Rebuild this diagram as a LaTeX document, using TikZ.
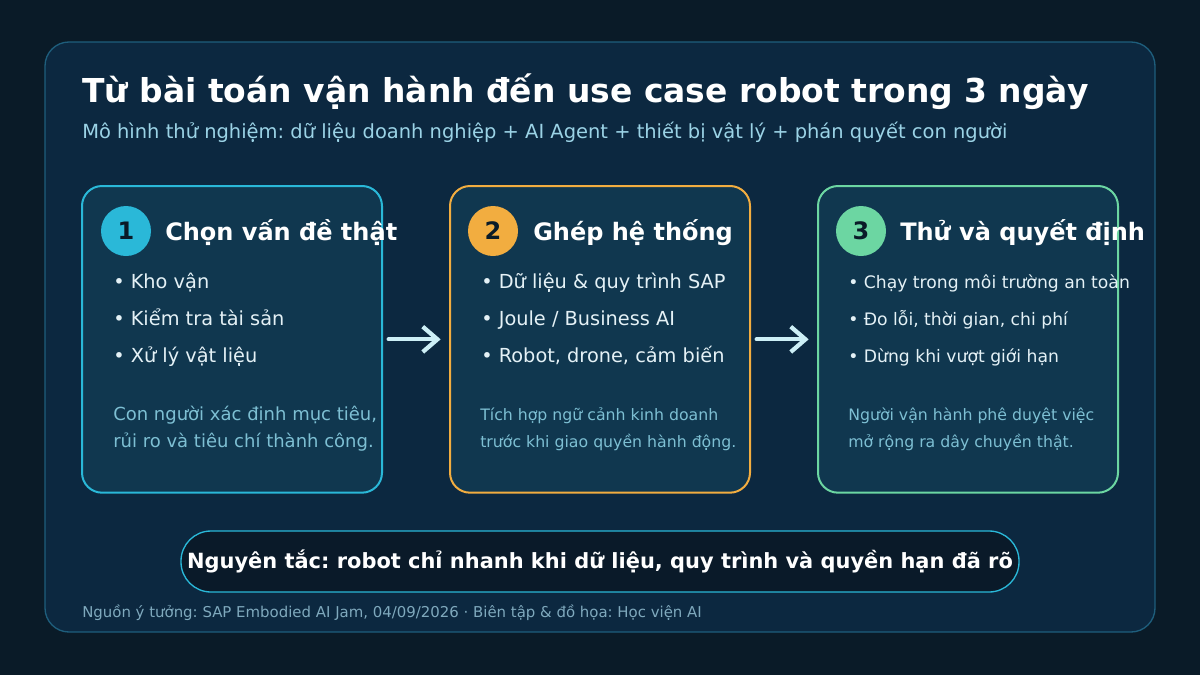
\documentclass[tikz,border=0pt]{standalone}
\usepackage{fontspec}
\setmainfont{DejaVu Sans}
\frenchspacing
\usetikzlibrary{positioning,arrows.meta}

\definecolor{pagebg}{HTML}{0A1B28}
\definecolor{panelbg}{HTML}{0C2840}
\definecolor{panelline}{HTML}{1E5E7C}
\definecolor{cardbg}{HTML}{10374F}
\definecolor{cyanline}{HTML}{2AB8D8}
\definecolor{orangeline}{HTML}{F2AD40}
\definecolor{greenline}{HTML}{6CD6A2}
\definecolor{subtext}{HTML}{9BD3E6}
\definecolor{mutedtext}{HTML}{7DBFD3}
\definecolor{bodytext}{HTML}{E4F1F6}
\definecolor{arrowcol}{HTML}{CDEFF6}
\definecolor{pillbg}{HTML}{0A1A29}
\definecolor{footertext}{HTML}{7FA9BD}

\tikzset{
  card/.style={draw, fill=cardbg, line width=1.5pt, rounded corners=15pt,
    minimum width=225pt, minimum height=230pt, outer sep=0pt, inner sep=0pt},
  badge/.style={circle, minimum size=37.5pt, inner sep=0pt, text=pagebg,
    font=\bfseries\fontsize{18pt}{20pt}\selectfont},
  heading/.style={anchor=base west, inner sep=0pt, text=white,
    font=\bfseries\fontsize{18pt}{22pt}\selectfont},
  item/.style={anchor=base west, inner sep=0pt, text=bodytext,
    font=\fontsize{14.5pt}{17pt}\selectfont},
  smallitem/.style={item, font=\fontsize{12.9pt}{15pt}\selectfont},
  note/.style={anchor=base west, inner sep=0pt, text=mutedtext, align=left},
  flow/.style={draw=arrowcol, line width=3.2pt, line cap=round,
    -{Straight Barb[length=11pt,width=19pt]},
    shorten <=5pt, shorten >=7pt},
}

\begin{document}
\begin{tikzpicture}[x=0.75pt,y=-0.75pt]

    % background and panel
    \fill[pagebg] (0,0) rectangle (1200,675);
    \draw[panelline, fill=panelbg, line width=1pt, rounded corners=18pt] (45,42) rectangle (1155,632);

    % title
    \node[anchor=base west, inner sep=0pt, text=white, font=\bfseries\fontsize{24.7pt}{28pt}\selectfont] (title) at (82,102)
        {Từ bài toán vận hành đến use case robot trong 3 ngày};
    \node[anchor=base west, inner sep=0pt, text=subtext, font=\fontsize{14.6pt}{17pt}\selectfont] (subtitle) at (82,138)
        {Mô hình thử nghiệm: dữ liệu doanh nghiệp + AI Agent + thiết bị vật lý + phán quyết con người};

    % Cards
    \node[card, draw=cyanline, anchor=north west] (card1) at (82,186) {};
    \node[card, draw=orangeline, right=51pt of card1] (card2) {};
    \node[card, draw=greenline, right=51pt of card2] (card3) {};

    % Card 1
    \node[badge, fill=cyanline] (num1) at ([shift={(44,45)}]card1.north west) {1};
    \node[heading] (head1) at ([shift={(83,54)}]card1.north west) {Chọn vấn đề thật};
    \node[item] (item1a) at ([shift={(31,102)}]card1.north west) {• Kho vận};
    \node[item] (item1b) at ([shift={(31,139)}]card1.north west) {• Kiểm tra tài sản};
    \node[item] (item1c) at ([shift={(31,176)}]card1.north west) {• Xử lý vật liệu};
    \node[note, font=\fontsize{13.5pt}{20.25pt}\selectfont] (note1) at ([shift={(31,261)}]card1.north west)
        {Con người xác định mục tiêu,\\rủi ro và tiêu chí thành công.};

    % Card 2
    \node[badge, fill=orangeline] (num2) at ([shift={(43,45)}]card2.north west) {2};
    \node[heading] (head2) at ([shift={(83,54)}]card2.north west) {Ghép hệ thống};
    \node[item] (item2a) at ([shift={(31,102)}]card2.north west) {• Dữ liệu \& quy trình SAP};
    \node[item] (item2b) at ([shift={(31,139)}]card2.north west) {• Joule / Business AI};
    \node[item] (item2c) at ([shift={(31,176)}]card2.north west) {• Robot, drone, cảm biến};
    \node[note, font=\fontsize{11.8pt}{20.25pt}\selectfont] (note2) at ([shift={(30,261)}]card2.north west)
        {Tích hợp ngữ cảnh kinh doanh\\trước khi giao quyền hành động.};

    % Card 3
    \node[badge, fill=greenline] (num3) at ([shift={(43,45)}]card3.north west) {3};
    \node[heading] (head3) at ([shift={(82,54)}]card3.north west) {Thử và quyết định};
    \node[smallitem] (item3a) at ([shift={(30,102)}]card3.north west) {• Chạy trong môi trường an toàn};
    \node[smallitem] (item3b) at ([shift={(30,139)}]card3.north west) {• Đo lỗi, thời gian, chi phí};
    \node[smallitem] (item3c) at ([shift={(30,176)}]card3.north west) {• Dừng khi vượt giới hạn};
    \node[note, font=\fontsize{11.8pt}{20.25pt}\selectfont] (note3) at ([shift={(30,261)}]card3.north west)
        {Người vận hành phê duyệt việc\\mở rộng ra dây chuyền thật.};

    % Arrows between cards
    \draw[flow] (card1) -- (card2);
    \draw[flow] (card2) -- (card3);

    % Principle
    \node[draw=cyanline, fill=pillbg, line width=1pt, rounded corners=22.5pt,
        minimum width=628.5pt, minimum height=45.75pt, inner sep=0pt,
        text=white, font=\bfseries\fontsize{15.7pt}{18pt}\selectfont] (rule) at (600,561.5)
        {Nguyên tắc: robot chỉ nhanh khi dữ liệu, quy trình và quyền hạn đã rõ};

    % Footer
    \node[anchor=base west, inner sep=0pt, text=footertext, font=\fontsize{11.2pt}{13pt}\selectfont] (source) at (82,617)
        {Nguồn ý tưởng: SAP Embodied AI Jam, 04/09/2026 · Biên tập \& đồ họa: Học viện AI};

\end{tikzpicture}
\end{document}
